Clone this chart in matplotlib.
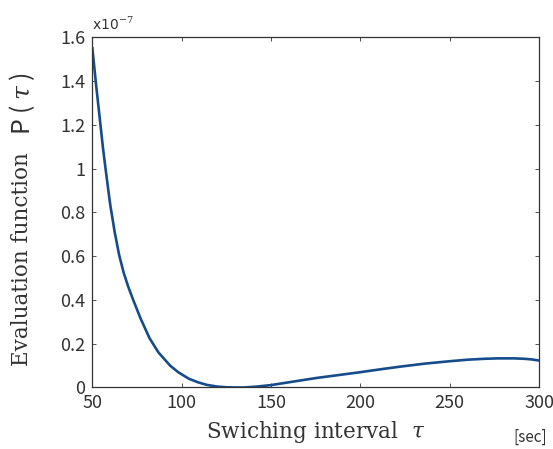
import matplotlib
matplotlib.use('Agg')
import matplotlib.pyplot as plt

# values (tau in sec, P in units of 1e-7)
tau = [50, 52, 54, 56, 58, 60, 62.5, 65, 67.5, 70, 73, 77, 82, 87, 93.5, 98,
       104, 109, 114, 120, 125, 130, 135, 142, 150, 162.5, 175, 187, 200,
       212, 222, 236, 250, 260, 269, 277, 286, 292, 296, 300]
P = [1.55, 1.39, 1.24, 1.09, 0.96, 0.835, 0.71, 0.605, 0.525, 0.462, 0.397,
     0.315, 0.225, 0.16, 0.10, 0.07, 0.04, 0.024, 0.012, 0.004, 0.001, 0.0,
     0.0, 0.004, 0.011, 0.027, 0.043, 0.056, 0.070, 0.084, 0.095, 0.109,
     0.120, 0.127, 0.131, 0.133, 0.133, 0.131, 0.128, 0.123]

xticks = [50, 100, 150, 200, 250, 300]
yticks = [0, 0.2, 0.4, 0.6, 0.8, 1.0, 1.2, 1.4, 1.6]
ytick_labels = ['0', '0.2', '0.4', '0.6', '0.8', '1', '1.2', '1.4', '1.6']

plt.rcParams['mathtext.fontset'] = 'dejavuserif'

fig = plt.figure(figsize=(5.53, 4.49), dpi=100)
ax = fig.add_axes([0.167, 0.137, 0.808, 0.78])

ax.plot(tau, P, color='#164c8c', linewidth=1.9)

ax.set_xlim(50, 300)
ax.set_ylim(0, 1.6)
ax.set_xticks(xticks)
ax.set_yticks(yticks)
ax.set_yticklabels(ytick_labels)
ax.tick_params(direction='in', top=True, right=True, length=3, width=0.6,
               labelsize=13, colors='#333333', pad=5)
for lab in ax.get_xticklabels() + ax.get_yticklabels():
    lab.set_fontfamily('Noto Sans CJK JP')
for sp in ax.spines.values():
    sp.set_linewidth(0.9)
    sp.set_color('#333333')

ax.set_xlabel(r'Swiching interval  $\it{\tau}$', fontsize=15.5,
              family='DejaVu Serif', color='#333333', labelpad=5)

# y label: serif words plus gothic P(tau)
fig.text(0.04, 0.423, 'Evaluation function', rotation=90, fontsize=15.5,
         family='DejaVu Serif', color='#333333', ha='center', va='center')
fig.text(0.04, 0.77, r'P ( $\it{\tau}$ )', rotation=90, fontsize=18,
         family='Noto Sans CJK JP', color='#333333', ha='center', va='center')

ax.text(0.0, 1.012, r'x10$^{-7}$', transform=ax.transAxes, fontsize=10,
        family='DejaVu Sans', color='#333333', ha='left', va='bottom')
fig.text(0.958, 0.008, '[sec]', fontsize=11, family='Noto Sans CJK JP',
         color='#333333', ha='center', va='bottom')

fig.savefig('out.png', dpi=100, facecolor='white')
